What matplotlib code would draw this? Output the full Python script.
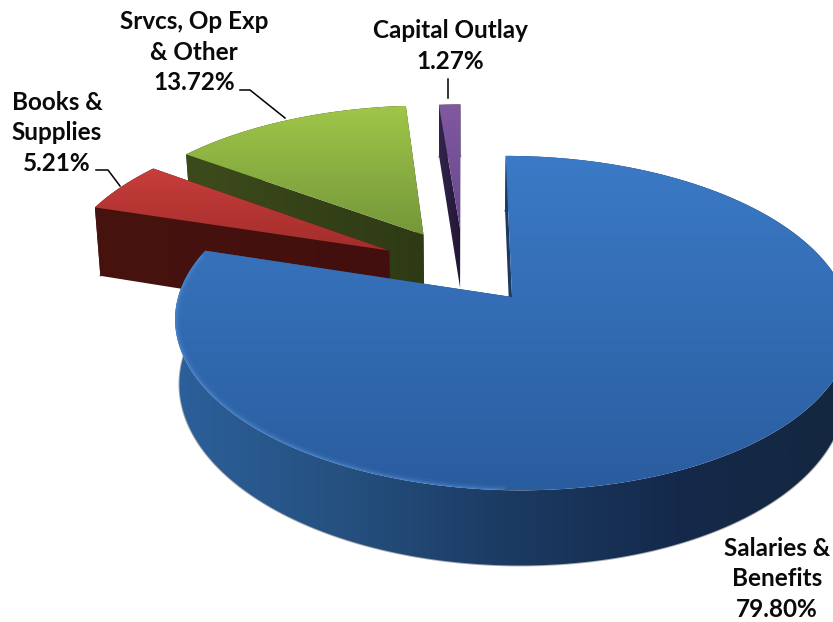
import numpy as np
import matplotlib
matplotlib.use("Agg")
import matplotlib.pyplot as plt
from matplotlib.colors import LinearSegmentedColormap
from matplotlib.patches import Polygon

# budget shares, clockwise from 12 o'clock
categories = ["Salaries &\nBenefits", "Books &\nSupplies", "Srvcs, Op Exp\n& Other", "Capital Outlay"]
shares = [79.80, 5.21, 13.72, 1.27]

# projection of the pie plane onto the canvas (pixels)
X0, Y0 = 461, 266.7
RX, RY = 321, 152.3
PERSP = 0.15
EXPLODE = 0.24
DEPTH = 61.6
TAPER = 0.985

# per-slice tweaks: radius factor, wall height factor and pixel nudge
radius_scale = [1.01, 1.03, 1.04, 1.0]
depth_scale = [1.0, 1.18, 1.0, 1.0]
nudge = [(4, 0), (-4, 0), (-1, -1), (2, -3)]

BLUE = {"top": ["#3B7AC6", "#2A5D9F"], "wall": ["#2C609B", "#25507F", "#1B3A62", "#14294A", "#14273F"]}
RED = {"top": ["#C83E3B", "#A22D2B"], "wall": ["#47130F", "#420F0E"]}
GREEN = {"top": ["#9FC648", "#75973A"], "wall": ["#3D4B1C", "#2E3A14"]}
PURPLE = {"top": ["#80599F", "#684891"], "wall": ["#33234B", "#221735"]}
styles = [BLUE, RED, GREEN, PURPLE]
draw_order = [2, 3, 1, 0]  # back to front


def project(u, v, depth=0.0):
    w = 1 + PERSP * v
    x = X0 + RX * u / w
    y = Y0 - RY * v / w
    if depth:
        x = X0 + (x - X0) * TAPER
        y = y + depth / w
    return np.column_stack([x, y])


def slice_uv(start, stop, radius):
    # outline in the pie plane, starting and ending at the apex
    mid = np.radians((start + stop) / 2)
    cu, cv = EXPLODE * np.sin(mid), EXPLODE * np.cos(mid)
    t = np.radians(np.linspace(start, stop, 240))
    return cu, cv, cu + radius * np.sin(t), cv + radius * np.cos(t)


def gradient(ax, poly, colors, vertical, bounds):
    cmap = LinearSegmentedColormap.from_list("g", colors)
    ramp = np.linspace(0, 1, 256)
    ramp = ramp[:, None] if vertical else ramp[None, :]
    x0, x1, y0, y1 = bounds
    im = ax.imshow(ramp, cmap=cmap, extent=(x0, x1, y1, y0), aspect="auto", interpolation="bilinear", vmin=0, vmax=1)
    patch = Polygon(poly, closed=True, facecolor="none", edgecolor="none")
    ax.add_patch(patch)
    im.set_clip_path(patch)


fig = plt.figure(figsize=(8.33, 6.22), dpi=100)
ax = fig.add_axes([0, 0, 1, 1])

edges = np.concatenate([[0], np.cumsum(shares)]) / np.sum(shares) * 360

for i in draw_order:
    start, stop = edges[i], edges[i + 1]
    cu, cv, u, v = slice_uv(start, stop, radius_scale[i])
    shift = np.array(nudge[i])
    depth = DEPTH * depth_scale[i]
    top_arc = project(u, v) + shift
    low_arc = project(u, v, depth) + shift
    apex = project(np.array([cu]), np.array([cv])) + shift
    apex_low = project(np.array([cu]), np.array([cv]), depth) + shift

    top_face = np.vstack([apex, top_arc])
    xmin, xmax = top_face[:, 0].min(), top_face[:, 0].max()
    ymin, ymax = top_face[:, 1].min(), top_face[:, 1].max()
    wall_box = (xmin, xmax, ymin, ymax + 90)
    wall_colors = styles[i]["wall"]

    # grey fringe under the rim, kept behind the faces
    ax.plot(low_arc[:, 0], low_arc[:, 1], color="#8A8F96", lw=1.4, alpha=0.75, zorder=0)

    # side walls: the two cut faces and the rim
    cut_a = np.vstack([apex, top_arc[:1], low_arc[:1], apex_low])
    cut_b = np.vstack([apex, top_arc[-1:], low_arc[-1:], apex_low])
    rim = np.vstack([top_arc, low_arc[::-1]])
    for poly in (cut_a, cut_b, rim):
        gradient(ax, poly, wall_colors, False, wall_box)

    gradient(ax, top_face, styles[i]["top"], True, (xmin, xmax, ymin, ymax))

    if i == 0:
        # soft light along the front edge of the big slice
        rim_clip = Polygon(top_face, closed=True, facecolor="none", edgecolor="none")
        ax.add_patch(rim_clip)
        deg = np.linspace(start, stop, 240)
        mask = (deg > 182) & (deg < 285)
        for lw, alpha in [(7, 0.10), (4, 0.18), (2, 0.30)]:
            line, = ax.plot(top_arc[mask, 0], top_arc[mask, 1], color="#5A97DC", lw=lw, alpha=alpha, zorder=3)
            line.set_clip_path(rim_clip)

# leader lines
ax.plot([240, 250, 285], [90, 90, 118], color="black", lw=1.1, zorder=4)
ax.plot([96, 108, 120], [170, 170, 186], color="black", lw=1.1, zorder=4)
ax.plot([448, 448], [79, 98], color="black", lw=1.1, zorder=4)

label_pos = [(777, 579), (57, 133), (194, 52), (450, 46)]
for name, value, (lx, ly) in zip(categories, shares, label_pos):
    ax.text(lx, ly, f"{name}\n{value:.2f}%", ha="center", va="center", family="Lato",
            fontweight="bold", fontsize=17.5, linespacing=1.42, color="#0A0A0A", zorder=5)

ax.set_xlim(0, 833)
ax.set_ylim(622, 0)
ax.axis("off")
fig.savefig("out.png", dpi=100, facecolor="white")
